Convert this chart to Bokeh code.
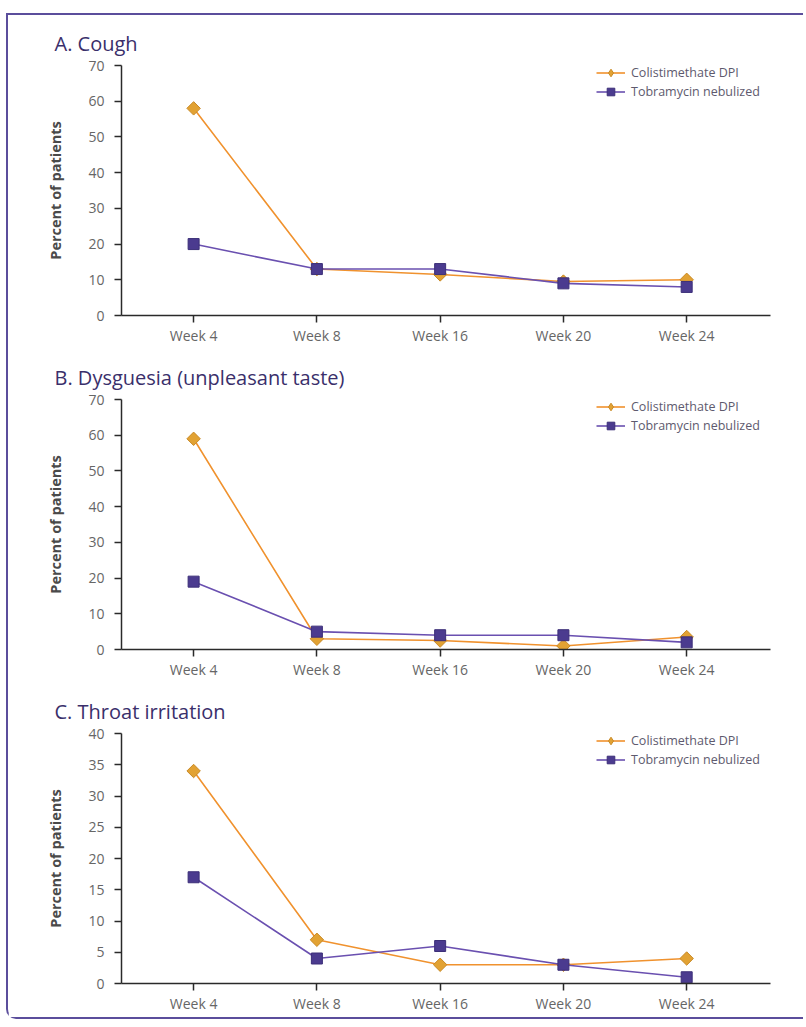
import math
from bokeh.plotting import figure
from bokeh.models import Range1d, FixedTicker, Legend, LegendItem
from bokeh.layouts import column
from bokeh.embed import file_html
from bokeh.resources import INLINE

# ---- data ----
weeks = ["Week 4", "Week 8", "Week 16", "Week 20", "Week 24"]
series_names = ["Colistimethate DPI", "Tobramycin nebulized"]

cough_colist = [58, 13, 11.5, 9.5, 10]
cough_tobra = [20, 13, 13, 9, 8]

dysg_colist = [59, 3, 2.5, 1, 3.5]
dysg_tobra = [19, 5, 4, 4, 2]

throat_colist = [34, 7, 3, 3, 4]
throat_tobra = [17, 4, 6, 3, 1]

panel_titles = ["A. Cough", "B. Dysguesia (unpleasant taste)", "C. Throat irritation"]
y_max = [70, 70, 40]
y_step = [10, 10, 5]

panels = [
    (cough_colist, cough_tobra),
    (dysg_colist, dysg_tobra),
    (throat_colist, throat_tobra),
]

FONT = "Open Sans"
ORANGE_LINE = "#f0922e"
ORANGE_FILL = "#e2a233"
ORANGE_EDGE = "#c98a26"
PURPLE_LINE = "#6a50b0"
PURPLE_FILL = "#4b3b8f"
PURPLE_EDGE = "#3c2f78"
TITLE_COLOR = "#3a2f6b"
FRAME_COLOR = "#5b4e9c"

figs = []
xs = list(range(len(weeks)))
for i, (title, (colist, tobra)) in enumerate(zip(panel_titles, panels)):
    p = figure(
        width=795, height=334,
        output_backend="svg", toolbar_location=None,
        x_range=Range1d(-0.585, 4.68), y_range=Range1d(0, y_max[i]),
        min_border_left=113, min_border_right=33,
        min_border_top=50, min_border_bottom=34,
        title=title,
    )
    p.title.align = "left"
    p.title.offset = -67
    p.title.standoff = 18
    p.title.text_font = FONT
    p.title.text_font_size = "20px"
    p.title.text_font_style = "normal"
    p.title.text_color = TITLE_COLOR

    p.outline_line_color = None
    p.grid.visible = False
    p.background_fill_color = "white"
    p.border_fill_color = "white"

    p.xaxis.ticker = FixedTicker(ticks=xs)
    p.xaxis.major_label_overrides = {k: w for k, w in zip(xs, weeks)}
    p.yaxis.ticker = FixedTicker(ticks=list(range(0, y_max[i] + 1, y_step[i])))
    for ax in (p.xaxis[0], p.yaxis[0]):
        ax.axis_line_color = "#2a2a2a"
        ax.axis_line_width = 1.5
        ax.major_tick_line_color = "#2a2a2a"
        ax.major_tick_line_width = 1.5
        ax.major_tick_out = 7
        ax.major_tick_in = 0
        ax.minor_tick_line_color = None
        ax.major_label_text_font = FONT
        ax.major_label_text_font_size = "14px"
        ax.major_label_text_color = "#666666"
    p.xaxis.major_label_standoff = 3
    p.yaxis.major_label_standoff = 10
    p.yaxis.axis_label = "Percent of patients"
    p.yaxis.axis_label_text_font = FONT
    p.yaxis.axis_label_text_font_size = "14.5px"
    p.yaxis.axis_label_text_font_style = "bold"
    p.yaxis.axis_label_text_color = "#4a4a4a"
    p.yaxis.axis_label_standoff = 20

    l1 = p.line(xs, colist, line_color=ORANGE_LINE, line_width=1.6)
    s1 = p.scatter(xs, colist, marker="square", angle=math.pi / 4, size=9.5,
                   fill_color=ORANGE_FILL, line_color=ORANGE_EDGE, line_width=1)
    l2 = p.line(xs, tobra, line_color=PURPLE_LINE, line_width=1.6)
    s2 = p.scatter(xs, tobra, marker="square", size=11, fill_color=PURPLE_FILL,
                   line_color=PURPLE_EDGE, line_width=1)
    # legend-only diamond key (no visible points in the plot)
    k1 = p.scatter([float("nan")], [float("nan")], marker="diamond", size=14,
                   fill_color=ORANGE_FILL, line_color=ORANGE_EDGE, line_width=1)

    legend = Legend(
        items=[LegendItem(label=series_names[0], renderers=[l1, k1]),
               LegendItem(label=series_names[1], renderers=[l2, s2])],
        location=(475, 214),
        padding=0, spacing=0, margin=0,
        glyph_width=29, glyph_height=19, label_height=19,
        label_standoff=6,
        label_text_font=FONT, label_text_font_size="12.5px",
        label_text_color="#5e5a6e",
        border_line_alpha=0, background_fill_alpha=0,
    )
    p.add_layout(legend)
    figs.append(p)

layout = column(
    *figs, spacing=0,
    styles={
        "margin-top": "13px",
        "margin-left": "6px",
        "border-left": f"2px solid {FRAME_COLOR}",
        "border-top": f"2px solid {FRAME_COLOR}",
        "border-bottom": f"2px solid {FRAME_COLOR}",
        "border-bottom-left-radius": "10px",
    },
)

open("out.html", "w").write(file_html(layout, INLINE))
